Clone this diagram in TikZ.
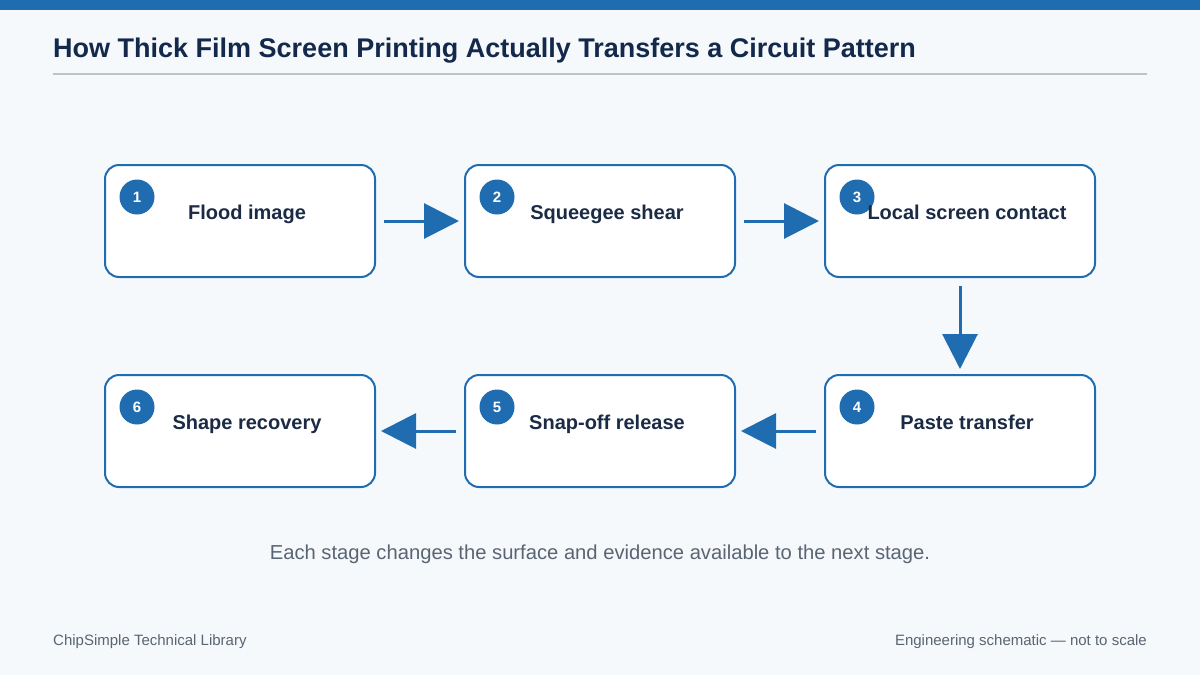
\documentclass[tikz,border=0pt]{standalone}
\usepackage{fontspec}
\setmainfont{Liberation Sans}
\usetikzlibrary{arrows.meta,calc}
\definecolor{bg}{HTML}{F6F9FC}
\definecolor{accent}{HTML}{1F6DB0}
\definecolor{navy}{HTML}{13294B}
\definecolor{boxtext}{HTML}{1B2B45}
\definecolor{rulegray}{HTML}{BFC3C8}
\definecolor{capgray}{HTML}{5B6472}
\tikzset{
  stagebox/.style={draw=accent, line width=2pt, fill=white, rounded corners=14pt,
    minimum width=270pt, minimum height=112pt, inner sep=0pt},
  stagetext/.style={font=\bfseries\fontsize{20}{24}\selectfont, text=boxtext, inner sep=0pt},
  badge/.style={circle, fill=accent, minimum size=35pt, inner sep=0pt,
    font=\bfseries\fontsize{15}{18}\selectfont, text=white},
  flow/.style={draw=accent, line width=3pt, -{Triangle[length=35pt,width=35pt]}, shorten >=0pt}
}
\begin{document}
\begin{tikzpicture}[x=1pt,y=-1pt]
\useasboundingbox (0,0) rectangle (1200,675);
\fill[bg] (0,0) rectangle (1200,675);
\fill[accent] (0,0) rectangle (1200,10);
\node[anchor=base west, inner sep=0pt, text=navy, font=\bfseries\fontsize{27}{31}\selectfont] (title) at (53,57) {How Thick Film Screen Printing Actually Transfers a Circuit Pattern};
\draw[rulegray, line width=1.5pt] (53,74) -- (1147,74);

\node[stagebox] (b1) at (240,221) {};
\node[stagebox] (b2) at (600,221) {};
\node[stagebox] (b3) at (960,221) {};
\node[stagebox] (b4) at (960,431) {};
\node[stagebox] (b5) at (600,431) {};
\node[stagebox] (b6) at (240,431) {};

\foreach \i in {1,...,6}{
  \node[badge] (n\i) at ($(b\i.north west)+(33,33)$) {\i};
}
\node[stagetext, anchor=base] (t1) at ($(b1.center)+(7,-2)$) {Flood image};
\node[stagetext, anchor=base] (t2) at ($(b2.center)+(7,-2)$) {Squeegee shear};
\node[stagetext, anchor=base] (t3) at ($(b3.center)+(7,-2)$) {Local screen contact};
\node[stagetext, anchor=base] (t4) at ($(b4.center)+(7,-2)$) {Paste transfer};
\node[stagetext, anchor=base] (t5) at ($(b5.center)+(7,-2)$) {Snap-off release};
\node[stagetext, anchor=base] (t6) at ($(b6.center)+(7,-2)$) {Shape recovery};

\draw[flow] ($(b1.east)+(8,0)$) -- ($(b2.west)+(-5,0)$);
\draw[flow] ($(b2.east)+(8,0)$) -- ($(b3.west)+(-5,0)$);
\draw[flow] ($(b3.south)+(0,8)$) -- ($(b4.north)+(0,-5)$);
\draw[flow] ($(b4.west)+(-8,0)$) -- ($(b5.east)+(5,0)$);
\draw[flow] ($(b5.west)+(-8,0)$) -- ($(b6.east)+(5,0)$);

\node[anchor=base, text=capgray, font=\fontsize{20.2}{24}\selectfont, inner sep=0pt] (cap) at (600,559) {Each stage changes the surface and evidence available to the next stage.};
\node[anchor=base west, text=capgray, font=\fontsize{15}{18}\selectfont, inner sep=0pt] (fl) at (53,645) {ChipSimple Technical Library};
\node[anchor=base east, text=capgray, font=\fontsize{15}{18}\selectfont, inner sep=0pt] (fr) at (1147,645) {Engineering schematic — not to scale};
\end{tikzpicture}
\end{document}
